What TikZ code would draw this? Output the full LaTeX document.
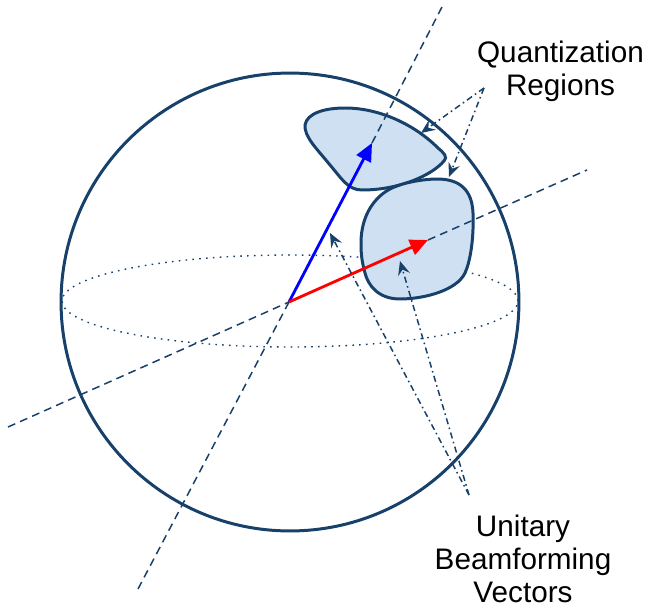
\documentclass[tikz,border=0pt]{standalone}
\usepackage{fontspec}
\setmainfont{Liberation Sans}
\usepackage{xcolor}
\usetikzlibrary{arrows.meta}
\definecolor{navyc}{HTML}{17406A}
\definecolor{softbg}{HTML}{CEE0F2}
\tikzset{
  sphere/.style={navyc,line width=1.7pt},
  axisln/.style={navyc,line width=0.85pt,dash pattern=on 4.5pt off 3pt},
  equator/.style={navyc,line width=0.8pt,dash pattern=on 0.9pt off 3pt},
  region/.style={draw=navyc,line width=1.7pt,fill=softbg},
  vec/.style={-{Triangle[length=3.6mm,width=3.2mm]},line width=1.6pt},
  callout/.style={-{Stealth[length=2.8mm,width=2.4mm,inset=1mm]},navyc,line width=0.85pt,dash pattern=on 3.5pt off 2pt on 0.9pt off 2pt},
  lab/.style={align=center,font=\fontsize{16.9}{18.8}\selectfont,inner sep=0pt}
}
\begin{document}
\begin{tikzpicture}[x=0.02cm,y=-0.02cm]
\useasboundingbox (0,0) rectangle (646,608);
\coordinate (org) at (289,302);
% sphere and equator
\draw[sphere] (290,302) circle [radius=4.58cm];
\draw[equator] (290,301) ellipse [x radius=4.56cm,y radius=0.92cm];
% regions
\draw[region] (305,125) .. controls (307,113) and (325,108) .. (345,108) .. controls (380,108) and (415,125) .. (438,148) .. controls (444,153) and (448,157) .. (444,161) .. controls (432,175) and (400,190) .. (362,190) .. controls (348,190) and (342,179) .. (330,165) .. controls (318,150) and (304,137) .. (305,125) -- cycle;
\draw[region] (361,243) .. controls (361,215) and (375,196) .. (392,188) .. controls (405,182) and (425,179) .. (437,179) .. controls (460,179) and (472,190) .. (473,213) .. controls (474,240) and (470,262) .. (465,273) .. controls (457,290) and (425,299) .. (400,299) .. controls (378,299) and (368,285) .. (365,273) .. controls (362,262) and (361,255) .. (361,243) -- cycle;
% axes
\coordinate (bluetip) at (372,143);
\coordinate (redtip) at (428,240);
\draw[axisln] (138,589) -- (org);
\draw[axisln] (bluetip) -- (443,5);
\draw[axisln] (8,427) -- (org);
\draw[axisln] (redtip) -- (587,170);
% vectors
\draw[vec,blue] (org) -- (bluetip);
\draw[vec,red] (org) -- (redtip);
% labels
\node[lab] (quant) at (560.5,71.5) {Quantization\\Regions};
\node[lab] (unit) at (523,559) {Unitary\\Beamforming\\Vectors};
\coordinate (qfoot) at (484,88);
\coordinate (ufoot) at (469,495);
\coordinate (qa) at (421,133);
\coordinate (qb) at (449,177);
\coordinate (ua) at (330,233);
\coordinate (ub) at (400,261);
\draw[callout] (qfoot) -- (qa);
\draw[callout] (qfoot) -- (qb);
\draw[callout] (ufoot) -- (ua);
\draw[callout] (ufoot) -- (ub);
\end{tikzpicture}
\end{document}
